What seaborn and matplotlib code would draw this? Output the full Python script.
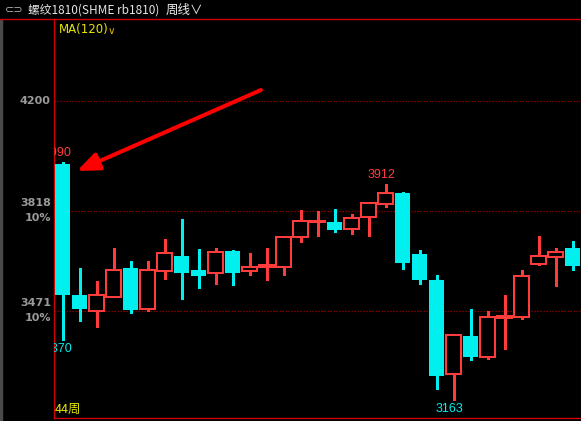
import matplotlib
matplotlib.use("Agg")
import matplotlib.pyplot as plt
import matplotlib.transforms as mtransforms
from matplotlib.lines import Line2D
import seaborn as sns
import pandas as pd

sns.set_theme(style="dark")
plt.rcParams["font.family"] = ["Noto Sans CJK SC", "DejaVu Sans"]

# weekly rebar candles (SHME rb1810)
opens = [3982, 3528, 3473, 3522, 3621, 3478, 3612, 3663, 3614, 3605, 3680,
         3610, 3624, 3624, 3728, 3781, 3781, 3755, 3797, 3842, 3881, 3669,
         3580, 3252, 3385, 3313, 3447, 3452, 3636, 3660, 3690]
closes = [3529, 3479, 3526, 3614, 3475, 3614, 3672, 3605, 3594, 3676, 3605,
          3624, 3631, 3728, 3783, 3783, 3754, 3794, 3846, 3880, 3640, 3581,
          3247, 3388, 3313, 3450, 3454, 3592, 3662, 3676, 3629]
highs = [3990, 3621, 3576, 3691, 3645, 3645, 3722, 3791, 3687, 3691, 3684,
         3673, 3691, 3728, 3821, 3819, 3826, 3809, 3850, 3912, 3885, 3684,
         3596, 3392, 3479, 3472, 3528, 3614, 3732, 3691, 3715]
lows = [3370, 3438, 3418, 3521, 3466, 3471, 3584, 3515, 3553, 3567, 3563,
        3598, 3581, 3598, 3713, 3733, 3747, 3740, 3733, 3832, 3619, 3567,
        3201, 3163, 3303, 3306, 3340, 3445, 3632, 3560, 3615]

grid_levels = [4200, 3818, 3471]
grid_labels = ["4200", "3818", "3471"]
pct_labels = ["", "10%", "10%"]

# marked extremes: (candle index, price, colour key, above/below)
marks = [(0, 3990, "up", "above"), (0, 3370, "down", "below"),
         (19, 3912, "up", "above"), (23, 3163, "down", "below")]

title_text = "螺纹1810(SHME rb1810)"
period_text = "周线∨"
ma_text = "MA(120)"
bar_count_text = "44周"

df = pd.DataFrame({"open": opens, "close": closes, "high": highs, "low": lows})
df["x"] = range(len(df))

UP = "#ff3c3c"
DOWN = "#00efef"
GRID = "#a00000"
BORDER = "#d00000"

W, H = 581, 421
fig = plt.figure(figsize=(W / 100, H / 100), dpi=100, facecolor="black")
ax = fig.add_axes([54 / W, 2.7 / H, 527 / W, 399 / H])
ax.set_facecolor("black")

for _, r in df.iterrows():
    lo_b, hi_b = min(r.open, r.close), max(r.open, r.close)
    if r.close >= r.open:
        ax.vlines(r.x, hi_b, r.high, color=UP, lw=1.0, antialiased=False, zorder=3)
        ax.vlines(r.x, r.low, lo_b, color=UP, lw=1.0, antialiased=False, zorder=3)
        ax.bar(r.x, hi_b - lo_b, bottom=lo_b, width=0.84, facecolor="black",
               edgecolor=UP, linewidth=1.1, antialiased=False, zorder=4)
    else:
        ax.vlines(r.x, r.low, r.high, color=DOWN, lw=1.0, antialiased=False, zorder=3)
        ax.bar(r.x, hi_b - lo_b, bottom=lo_b, width=0.88, facecolor=DOWN,
               edgecolor=DOWN, linewidth=0, antialiased=False, zorder=4)

ax.set_xlim(-0.5, 30.5)
ax.set_ylim(3099.4, 4484.5)
ax.set_xticks([])
ax.set_yticks([])
ax.grid(False)
for side in ["top", "right"]:
    ax.spines[side].set_visible(False)
for side in ["left", "bottom"]:
    ax.spines[side].set_color(BORDER)
    ax.spines[side].set_linewidth(1.0)

for lvl in grid_levels:
    ax.axhline(lvl, color=GRID, lw=0.9, dashes=(1.0, 1.4), zorder=1)

# price labels left of the frame
blend = mtransforms.blended_transform_factory(ax.transAxes, ax.transData)
for lvl, lab, pct in zip(grid_levels, grid_labels, pct_labels):
    if pct:
        ax.annotate(lab, (-0.006, lvl), xycoords=blend, xytext=(0, 8),
                    textcoords="offset pixels", ha="right", va="center",
                    color="#9a9a9a", fontsize=8, fontweight="bold",
                    family="DejaVu Sans", annotation_clip=False)
        ax.annotate(pct, (-0.006, lvl), xycoords=blend, xytext=(0, -7),
                    textcoords="offset pixels", ha="right", va="center",
                    color="#9a9a9a", fontsize=8, fontweight="bold",
                    family="DejaVu Sans", annotation_clip=False)
    else:
        ax.annotate(lab, (-0.006, lvl), xycoords=blend, ha="right", va="center",
                    color="#9a9a9a", fontsize=8, fontweight="bold",
                    family="DejaVu Sans", annotation_clip=False)

# high / low markers
for i, price, key, pos in marks:
    col = UP if key == "up" else DOWN
    dy = 9 if pos == "above" else -9
    t = ax.annotate(str(price), (i, price), xytext=(-4.5, dy),
                    textcoords="offset pixels", ha="center", va="center",
                    color=col, fontsize=9, family="Liberation Sans")
    t.set_clip_on(True)
    t.set_clip_path(ax.patch)

# header bar
fig.add_artist(Line2D([0, 1], [1 - 19.3 / H] * 2, color=BORDER, lw=1.0,
                      transform=fig.transFigure))
fig.add_artist(plt.Rectangle((0, 0), 2.5 / W, 1 - 20 / H, color="#4a4a4a",
                             transform=fig.transFigure))
fig.text(5 / W, 1 - 10 / H, "⊂⊃", color="#b0b0b0", fontsize=8,
         family="DejaVu Sans", va="center", ha="left")
fig.text(28 / W, 1 - 10 / H, title_text, color="#e6e6e6", fontsize=8.5,
         va="center", ha="left")
fig.text(166 / W, 1 - 10 / H, period_text, color="#f0f0f0", fontsize=9,
         va="center", ha="left")
fig.text(59 / W, 1 - 29 / H, ma_text, color="#e6e600", fontsize=8.5,
         family="DejaVu Sans", va="center", ha="left")
fig.text(108 / W, 1 - 31 / H, "∨", color="#e6b000", fontsize=7.5,
         family="DejaVu Sans", va="center", ha="left")
fig.text(54.5 / W, 1 - 409 / H, bar_count_text, color="#e6e600", fontsize=9,
         va="center", ha="left")

# red arrow pointing at the big bearish week
ax.annotate("", xy=(77, H - 171), xycoords="figure pixels",
            xytext=(261, H - 90), textcoords="figure pixels",
            arrowprops=dict(arrowstyle="-|>,head_length=1.1,head_width=0.45",
                            color="#ff0000", lw=2.9, shrinkA=0, shrinkB=0),
            annotation_clip=False)

fig.savefig("out.png", dpi=100, facecolor="black")
